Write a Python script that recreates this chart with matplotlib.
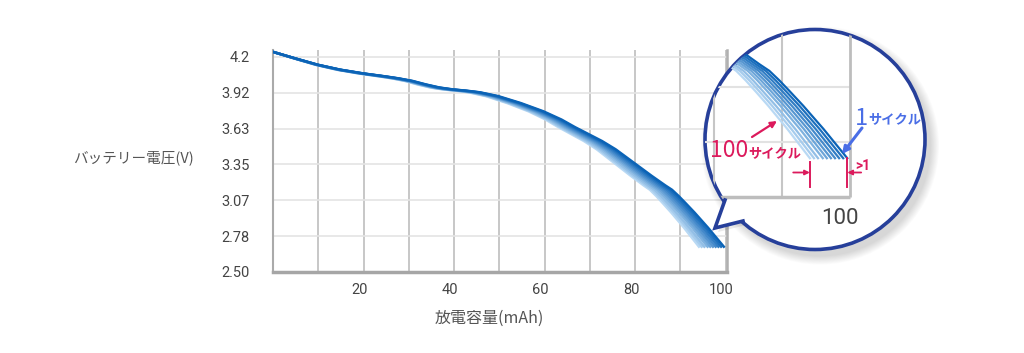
import numpy as np
import matplotlib
matplotlib.use("Agg")
import matplotlib.pyplot as plt
import matplotlib.transforms as mtransforms
from matplotlib.patches import Circle, Polygon
from matplotlib.colors import LinearSegmentedColormap

W, H = 1024, 353

# discharge profile: voltage vs. share of that cycle's capacity (%)
dod = [0, 5, 10, 15, 20, 25, 28, 31, 34, 37, 40, 43, 46, 50, 55, 60, 64, 67,
       70, 73, 76, 80, 84, 87, 88.5, 90, 91.5, 93.5, 96.5, 100]
volts = [4.24, 4.188, 4.138, 4.099, 4.07, 4.046, 4.03, 4.01, 3.982, 3.958,
         3.943, 3.933, 3.92, 3.89, 3.835, 3.77, 3.705, 3.645, 3.59, 3.535,
         3.47, 3.365, 3.26, 3.185, 3.15, 3.10, 3.045, 2.97, 2.85, 2.70]

# capacity at cut-off for each cycle (mAh)
cycles = [1, 12, 23, 34, 45, 56, 67, 78, 89, 100]
capacity = [99.6, 99.0, 98.4, 97.8, 97.2, 96.6, 96.0, 95.3, 94.7, 94.1]

ytick_labels = ["2.50", "2.78", "3.07", "3.35", "3.63", "3.92", "4.2"]
xticks = [10, 20, 30, 40, 50, 60, 70, 80, 90, 100]
xtick_labels = ["", "20", "", "40", "", "60", "", "80", "", "100"]

NUM_FONT = ["Roboto", "DejaVu Sans"]
JP_FONT = ["Noto Sans CJK JP", "DejaVu Sans"]
CRIMSON = "#dc1a5c"
BLUE = "#4a6ee6"
NAVY = "#263f9a"

plt.rcParams["font.family"] = NUM_FONT

fig = plt.figure(figsize=(W / 100, H / 100), dpi=100)


def fig_box(l, t, r, b):
    return [l / W, 1 - b / H, (r - l) / W, (b - t) / H]


cmap = LinearSegmentedColormap.from_list("cyc", ["#0b63b6", "#b9d9f4"])
n = len(cycles)

# ---- main chart ----
ax = fig.add_axes(fig_box(273, 50, 727, 272))
ax.set_xlim(0, 100.3)
ax.set_ylim(2.5, 4.255)

for i in reversed(range(n)):
    x = np.array(dod) * capacity[i] / 100
    ax.plot(x, volts, color=cmap(i / (n - 1)), lw=1.8, zorder=3,
            solid_joinstyle="round")

ax.set_xticks(xticks)
ax.set_xticklabels(xtick_labels)
ax.set_yticks(np.linspace(2.5, 4.2, len(ytick_labels)))
ax.set_yticklabels(ytick_labels)
ax.tick_params(axis="x", length=0, pad=8, labelsize=10.5, labelcolor="#444444")
ax.tick_params(axis="y", length=0, pad=17, labelsize=10.5, labelcolor="#444444")
for lab in ax.get_xticklabels():
    lab.set_transform(lab.get_transform() +
                      mtransforms.ScaledTranslation(-4 / 100, 0, fig.dpi_scale_trans))

ax.set_axisbelow(True)
ax.xaxis.grid(True, color="#bdbdbd", lw=1.2)
ax.yaxis.grid(True, color="#e4e4e4", lw=1.2)
ax.spines["top"].set_visible(False)
ax.spines["left"].set_color("#aaaaaa")
ax.spines["left"].set_linewidth(1.5)
ax.spines["right"].set_color("#b0b0b0")
ax.spines["right"].set_linewidth(1.8)
ax.spines["bottom"].set_color("#a6a6a6")
ax.spines["bottom"].set_linewidth(2.5)

fig.text(133 / W, 1 - 158 / H, "バッテリー電圧(V)", ha="center", va="center",
         fontsize=10.5, color="#555555", family=JP_FONT)
fig.text(489 / W, 1 - 318 / H, "放電容量(mAh)", ha="center", va="center",
         fontsize=11.5, color="#555555", family=JP_FONT)

# ---- magnified bubble ----
cx, cy, r = 815, 139.5, 110
x100_px, v25_px = 850, 197      # where x=100 / V=2.50 land inside the bubble
px_per_x, px_per_v = 6.8, 194

ax2 = fig.add_axes(fig_box(cx - r, cy - r, cx + r, cy + r))
ax2.set_xlim(100 - (x100_px - (cx - r)) / px_per_x,
             100 + ((cx + r) - x100_px) / px_per_x)
ax2.set_ylim(2.5 - ((cy + r) - v25_px) / px_per_v,
             2.5 + (v25_px - (cy - r)) / px_per_v)
ax2.axis("off")

pix = mtransforms.Affine2D().scale(1 / W, -1 / H).translate(0, 1) + fig.transFigure
blend = mtransforms.blended_transform_factory(ax2.transData, pix)

tail = [(725, 200), (715, 228), (743, 221)]

# soft shadow
for k in range(10):
    ax2.add_patch(Circle((cx + 5, cy + 6), r + 1 + k * 0.9, transform=pix,
                         fc="black", ec="none", alpha=0.016, clip_on=False, zorder=1))
ax2.add_patch(Polygon([(p[0] + 3, p[1] + 4) for p in tail], closed=True, transform=pix,
                      fc="black", ec="none", alpha=0.08, clip_on=False, zorder=1))

bubble = Circle((cx, cy), r, transform=pix, fc="white", ec=NAVY, lw=2.6,
                clip_on=False, zorder=2)
ax2.add_patch(bubble)
ax2.add_patch(Polygon([(728, 197), (723.5, 201), (715, 228), (742, 222.5), (746.5, 218.5)],
                      closed=True, transform=pix, fc="white", ec="none",
                      clip_on=False, zorder=3))
ax2.plot([p[0] for p in tail], [p[1] for p in tail], transform=pix, color=NAVY,
         lw=2.6, solid_joinstyle="miter", clip_on=False, zorder=8)

ytop = ax2.get_ylim()[1]
xleft = ax2.get_xlim()[0]
grid_arts = [
    ax2.vlines([80, 90], 2.5, ytop, color="#c6c6c6", lw=1.5, zorder=4),
    ax2.hlines(np.linspace(2.5, 4.2, len(ytick_labels))[1:3], xleft, 100,
               color="#e2e2e2", lw=1.5, zorder=4),
    ax2.vlines(100, 2.5, ytop, color="#bdbdbd", lw=2, zorder=4),
    ax2.hlines(2.5, xleft, 100, color="#bdbdbd", lw=2.5, zorder=4),
]
for a in grid_arts:
    a.set_clip_path(bubble)

for i in reversed(range(n)):
    x = np.array(dod) * capacity[i] / 100
    (ln,) = ax2.plot(x, volts, color=cmap(i / (n - 1)), lw=1.6, zorder=5,
                     solid_joinstyle="round")
    ln.set_clip_path(bubble)

ax2.annotate("100", xy=(100, 219), xycoords=blend, xytext=(-7, 0),
             textcoords="offset points", ha="center", va="center",
             fontsize=16, color="#444444", zorder=6)

# labels and arrows
ax2.text(710, 157, "100", transform=pix, ha="left", va="baseline", fontsize=16.5,
         color=CRIMSON, family=JP_FONT, zorder=7)
ax2.text(748, 157, "サイクル", transform=pix, ha="left", va="baseline", fontsize=9.5,
         fontweight="bold", color=CRIMSON, family=JP_FONT, zorder=7)
ax2.text(855, 125, "1", transform=pix, ha="left", va="baseline", fontsize=17,
         color=BLUE, family=JP_FONT, zorder=7)
ax2.text(868, 123, "サイクル", transform=pix, ha="left", va="baseline", fontsize=9.5,
         fontweight="bold", color=BLUE, family=JP_FONT, zorder=7)

ax2.annotate("", xy=(777, 121), xycoords=pix, xytext=(752, 137), textcoords=pix,
             arrowprops=dict(arrowstyle="-|>", color=CRIMSON, lw=1.6,
                             mutation_scale=9, shrinkA=0, shrinkB=0), zorder=7)
ax2.annotate("", xy=(842, 154), xycoords=pix, xytext=(862, 128), textcoords=pix,
             arrowprops=dict(arrowstyle="-|>", color=BLUE, lw=2.2,
                             mutation_scale=10, shrinkA=0, shrinkB=0), zorder=7)

# capacity gap markers
ax2.plot([capacity[-1]] * 2, [162, 187], transform=blend, color=CRIMSON, lw=1.4, zorder=7)
ax2.plot([capacity[0]] * 2, [158, 187], transform=blend, color=CRIMSON, lw=1.4, zorder=7)
ax2.annotate("", xy=(capacity[-1], 172.5), xycoords=blend, xytext=(-12, 0),
             textcoords="offset points",
             arrowprops=dict(arrowstyle="-|>", color=CRIMSON, lw=1.3,
                             mutation_scale=7, shrinkA=0, shrinkB=0), zorder=7)
ax2.annotate("", xy=(capacity[0], 172.5), xycoords=blend, xytext=(10, 0),
             textcoords="offset points",
             arrowprops=dict(arrowstyle="-|>", color=CRIMSON, lw=1.3,
                             mutation_scale=7, shrinkA=0, shrinkB=0), zorder=7)
ax2.text(855, 170, ">1", transform=pix, ha="left", va="baseline", fontsize=10,
         fontweight="bold", color=CRIMSON, zorder=7)

fig.savefig("out.png", dpi=100)
